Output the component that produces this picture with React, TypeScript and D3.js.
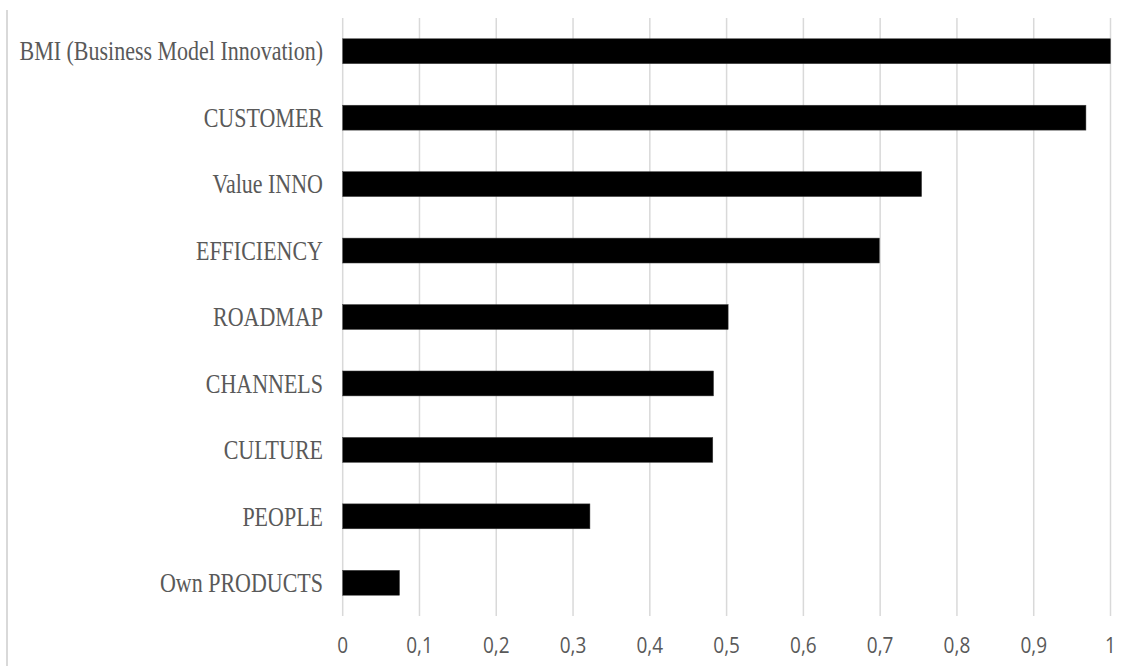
import React from "react";
import * as d3 from "d3";

const categories = [
  "BMI (Business Model Innovation)",
  "CUSTOMER",
  "Value INNO",
  "EFFICIENCY",
  "ROADMAP",
  "CHANNELS",
  "CULTURE",
  "PEOPLE",
  "Own PRODUCTS",
];
const values = [1.0, 0.968, 0.754, 0.699, 0.502, 0.483, 0.482, 0.322, 0.074];
const ticks = [0, 0.1, 0.2, 0.3, 0.4, 0.5, 0.6, 0.7, 0.8, 0.9, 1];
const tickLabels = ["0", "0,1", "0,2", "0,3", "0,4", "0,5", "0,6", "0,7", "0,8", "0,9", "1"];

const W = 1133;
const H = 666;

export default function App() {
  const x = d3.scaleLinear().domain([0, 1]).range([342.7, 1110.5]);
  const y = d3
    .scaleBand<string>()
    .domain(categories)
    .range([18, 616])
    .paddingInner(0.625)
    .paddingOuter(0.3125);

  return (
    <svg
      width={W}
      height={H}
      style={{ position: "absolute", left: 0, top: 0, background: "#fff" }}
    >
      <rect x={0} y={0} width={W} height={H} fill="#fff" />
      <line x1={7} x2={7} y1={10} y2={666} stroke="#d9d9d9" strokeWidth={2} />
      {ticks.map((t) => (
        <line
          key={"g" + t}
          x1={x(t)}
          x2={x(t)}
          y1={18}
          y2={616}
          stroke="#d9d9d9"
          strokeWidth={1.5}
        />
      ))}
      {categories.map((c, i) => (
        <rect
          key={c}
          x={x(0)}
          y={y(c)!}
          width={x(values[i]) - x(0)}
          height={y.bandwidth()}
          fill="#000"
          stroke="#404040"
          strokeWidth={0.5}
        />
      ))}
      {categories.map((c) => (
        <text
          key={"l" + c}
          transform={`translate(323,${y(c)! + y.bandwidth() / 2}) scale(1,1.2)`}
          textAnchor="end"
          dominantBaseline="central"
          fontFamily="'Liberation Serif', 'Times New Roman', serif"
          fontSize={22}
          fill="#595959"
        >
          {c}
        </text>
      ))}
      {ticks.map((t, i) => (
        <text
          key={"t" + t}
          transform={`translate(${x(t)},645) scale(1,1.12)`}
          textAnchor="middle"
          dominantBaseline="central"
          fontFamily="'Open Sans', 'Liberation Sans', sans-serif"
          fontSize={19}
          fill="#595959"
        >
          {tickLabels[i]}
        </text>
      ))}
    </svg>
  );
}
